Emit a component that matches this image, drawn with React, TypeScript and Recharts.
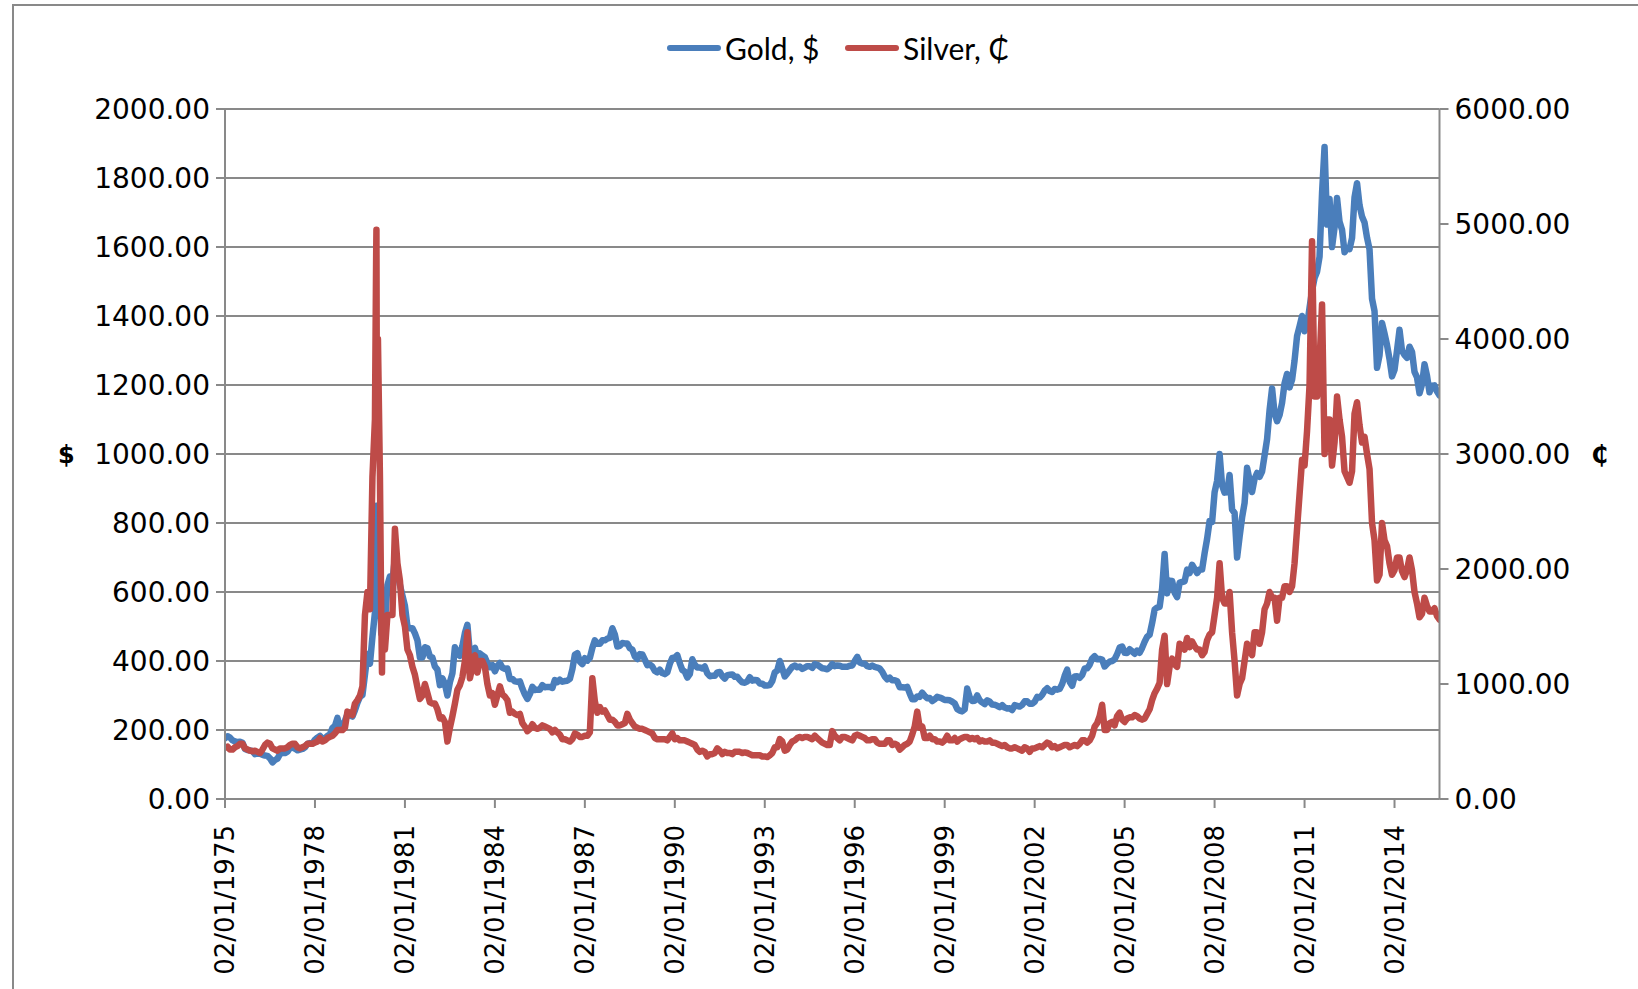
import React from 'react';
import { LineChart, Line, XAxis, YAxis, CartesianGrid, Legend } from 'recharts';

// Monthly values, Jan 1975 .. Jul 2015 (gold in $, silver in cents)
const gold1970s = [
  176, 182, 178, 170, 167, 165, 166, 163, 145, 142, 141, 139,
  130, 132, 131, 128, 126, 125, 118, 106, 113, 117, 130, 134,
  133, 137, 148, 149, 146, 141, 143, 145, 150, 160, 162, 161,
  172, 178, 183, 175, 176, 183, 188, 206, 212, 235, 206, 210,
  227, 246, 242, 239, 257, 279, 296, 301, 360, 420, 392, 470,
];
const gold1980s = [
  540, 670, 640, 515, 510, 620, 645, 630, 700, 660, 620, 590,
  560, 500, 495, 495, 480, 460, 410, 410, 440, 437, 413, 410,
  384, 375, 330, 350, 334, 300, 339, 364, 440, 422, 415, 444,
  481, 505, 420, 432, 438, 413, 422, 416, 411, 394, 382, 388,
  370, 386, 394, 381, 377, 378, 348, 348, 341, 340, 341, 320,
  303, 290, 304, 325, 316, 317, 317, 330, 324, 325, 325, 322,
  345, 339, 346, 340, 342, 343, 348, 376, 418, 423, 398, 391,
  408, 401, 409, 438, 460, 450, 450, 460, 460, 465, 467, 495,
  477, 442, 444, 452, 451, 451, 437, 433, 413, 406, 420, 419,
  404, 388, 390, 384, 371, 367, 375, 365, 362, 367, 392, 409,
];
const gold1990s = [
  410, 417, 393, 374, 369, 352, 362, 405, 389, 381, 381, 378,
  384, 364, 356, 357, 357, 367, 368, 356, 349, 359, 360, 361,
  354, 354, 345, 338, 337, 341, 353, 343, 345, 344, 335, 334,
  329, 329, 330, 342, 367, 372, 400, 378, 355, 364, 374, 383,
  387, 382, 384, 377, 381, 385, 385, 380, 391, 389, 384, 379,
  378, 376, 382, 391, 385, 387, 386, 383, 383, 383, 386, 387,
  400, 412, 396, 393, 392, 385, 383, 387, 383, 381, 378, 369,
  355, 347, 352, 344, 344, 341, 324, 324, 323, 325, 306, 289,
  289, 297, 296, 308, 299, 292, 293, 284, 289, 296, 294, 291,
  287, 287, 286, 282, 277, 261, 256, 254, 260, 320, 295, 284,
];
const gold2000s = [
  285, 300, 286, 280, 275, 286, 282, 274, 273, 270, 266, 272,
  265, 262, 263, 258, 272, 270, 268, 273, 283, 283, 276, 276,
  282, 296, 294, 302, 314, 321, 313, 310, 319, 317, 319, 333,
  357, 375, 340, 328, 355, 356, 351, 359, 378, 379, 389, 407,
  414, 405, 406, 404, 384, 392, 398, 400, 405, 420, 439, 442,
  424, 423, 434, 428, 421, 430, 424, 438, 456, 470, 476, 510,
  549, 555, 557, 610, 710, 596, 633, 632, 598, 585, 627, 629,
  631, 665, 655, 679, 667, 655, 665, 665, 712, 754, 806, 803,
  889, 922, 1000, 909, 888, 889, 939, 839, 829, 700, 760, 816,
  858, 960, 924, 890, 928, 945, 934, 949, 996, 1043, 1127, 1190,
];
const gold2010s = [
  1118, 1095, 1113, 1148, 1205, 1232, 1193, 1215, 1271, 1342, 1370, 1400,
  1356, 1372, 1424, 1473, 1510, 1528, 1572, 1756, 1890, 1665, 1739, 1600,
  1656, 1742, 1673, 1650, 1585, 1596, 1594, 1626, 1744, 1785, 1721, 1688,
  1671, 1627, 1593, 1450, 1414, 1250, 1286, 1380, 1349, 1316, 1275, 1225,
  1244, 1300, 1360, 1299, 1287, 1279, 1311, 1296, 1238, 1222, 1176, 1202,
  1260, 1227, 1179, 1198, 1199, 1181, 1170,
];

const silver1970s = [
  445, 455, 430, 430, 450, 460, 480, 480, 440, 430, 420, 415,
  420, 410, 400, 430, 470, 490, 480, 440, 430, 420, 440, 440,
  440, 450, 470, 480, 480, 450, 440, 450, 460, 480, 480, 480,
  490, 500, 530, 500, 510, 530, 540, 550, 570, 600, 600, 600,
  620, 760, 750, 730, 830, 860, 900, 980, 1600, 1800, 1650, 2800,
];
const silver1980s = [
  3300, 3700, 2800, 1450, 1300, 1600, 1600, 1600, 2350, 2050, 1900, 1600,
  1500, 1300, 1250, 1150, 1080, 970, 870, 900, 1000, 920, 840, 830,
  830, 780, 700, 710, 670, 500, 620, 720, 830, 950, 990, 1060,
  1200, 1450, 1050, 1150, 1250, 1100, 1200, 1200, 1150, 1000, 900, 920,
  820, 900, 980, 910, 890, 860, 750, 760, 740, 730, 740, 660,
  630, 590, 610, 650, 620, 610, 620, 640, 630, 620, 610, 580,
  600, 580, 560, 520, 520, 510, 500, 520, 570, 560, 540, 540,
  550, 550, 580, 1050, 850, 750, 800, 760, 770, 730, 690, 690,
  670, 640, 640, 650, 660, 740, 690, 660, 630, 620, 610, 610,
  600, 590, 580, 570, 530, 520, 520, 520, 520, 510, 540, 570,
];
const silver1990s = [
  520, 530, 510, 510, 510, 500, 490, 480, 470, 430, 410, 420,
  410, 370, 390, 390, 400, 440, 420, 390, 410, 400, 400, 390,
  410, 410, 410, 400, 405, 400, 390, 380, 380, 380, 380, 370,
  370, 365, 380, 400, 450, 450, 520, 500, 420, 430, 470, 500,
  510, 530, 540, 530, 540, 540, 530, 520, 550, 530, 510, 490,
  480, 470, 470, 590, 550, 530, 510, 540, 540, 530, 520, 510,
  550, 560, 550, 540, 530, 510, 510, 520, 520, 490, 480, 480,
  480, 510, 510, 470, 480, 470, 430, 450, 470, 480, 500, 560,
  630, 760, 620, 630, 530, 530, 550, 520, 520, 500, 500, 490,
  510, 550, 510, 510, 530, 500, 520, 530, 540, 540, 520, 530,
];
const silver2000s = [
  520, 530, 500, 510, 500, 500, 510, 490, 490, 480, 470, 460,
  470, 450, 440, 440, 450, 440, 430, 420, 450, 440, 410, 440,
  440, 450, 460, 450, 470, 490, 480, 450, 460, 440, 450, 460,
  470, 470, 450, 460, 470, 460, 480, 510, 510, 490, 510, 550,
  630, 660, 720, 820, 600, 600, 660, 670, 640, 720, 750, 690,
  670, 700, 710, 710, 730, 720, 700, 690, 700, 740, 780, 860,
  920, 960, 1010, 1300, 1420, 1000, 1150, 1220, 1170, 1150, 1350, 1330,
  1300, 1400, 1320, 1370, 1330, 1300, 1300, 1250, 1280, 1380, 1430, 1450,
  1600, 1750, 2050, 1750, 1700, 1700, 1800, 1450, 1200, 900, 1000, 1050,
  1200, 1350, 1300, 1250, 1450, 1450, 1350, 1450, 1650, 1700, 1800, 1750,
];
const silver2010s = [
  1750, 1550, 1750, 1750, 1850, 1850, 1800, 1850, 2050, 2350, 2650, 2950,
  2900, 3200, 3600, 4850, 3500, 3500, 3800, 4300, 3000, 3300, 3300, 2900,
  3100, 3500, 3300, 3150, 2850, 2800, 2750, 2850, 3350, 3450, 3250, 3100,
  3150, 3000, 2870, 2400, 2250, 1900, 1950, 2400, 2250, 2200, 2050, 1950,
  1990, 2100, 2100, 1980, 1930, 1990, 2100, 1990, 1800, 1700, 1580, 1610,
  1750, 1680, 1630, 1630, 1660, 1590, 1560,
];

// Extra intra-month readings around the early-1980 spike
const spikeDates = [1980.04, 1980.05, 1980.06, 1980.1, 1980.21, 1980.235];
const spikeGold = [820, 850, 700, 690, 480, 495];
const spikeSilver = [4700, 4950, 3800, 4000, 1600, 1100];

const goldValues = [...gold1970s, ...gold1980s, ...gold1990s, ...gold2000s, ...gold2010s];
const silverValues = [...silver1970s, ...silver1980s, ...silver1990s, ...silver2000s, ...silver2010s];
const START_YEAR = 1975;

const xTicks = [1975, 1978, 1981, 1984, 1987, 1990, 1993, 1996, 1999, 2002, 2005, 2008, 2011, 2014];
const leftTicks = [0, 200, 400, 600, 800, 1000, 1200, 1400, 1600, 1800, 2000];
const rightTicks = [0, 1000, 2000, 3000, 4000, 5000, 6000];

const rows = [
  ...goldValues.map((g, i) => ({ t: START_YEAR + i / 12, gold: g, silver: silverValues[i] })),
  ...spikeDates.map((t, i) => ({ t, gold: spikeGold[i], silver: spikeSilver[i] })),
].sort((a, b) => a.t - b.t);

const GOLD = '#4A7EBB';
const SILVER = '#BE4B48';
const GRID = '#898989';
const AXIS_FONT = 'DejaVu Sans, Verdana, sans-serif';

const XTick = (props: any) => {
  const { x, y, payload } = props;
  return (
    <text
      x={x}
      y={y}
      transform={`rotate(-90, ${x}, ${y})`}
      textAnchor="end"
      dy="0.36em"
      fontSize={26}
      fontFamily={AXIS_FONT}
      fill="#000"
    >
      {`02/01/${payload.value}`}
    </text>
  );
};

const LegendContent = () => (
  <div style={{ position: 'relative', width: 1638, height: 40, fontFamily: 'Lato, "Open Sans", sans-serif', fontSize: 30, color: '#000' }}>
    <div style={{ position: 'absolute', left: 667, top: 17, width: 54, height: 6, borderRadius: 3, background: GOLD }} />
    <div style={{ position: 'absolute', left: 725, top: 0, lineHeight: '40px', whiteSpace: 'nowrap' }}>Gold, $</div>
    <div style={{ position: 'absolute', left: 845, top: 17, width: 54, height: 6, borderRadius: 3, background: SILVER }} />
    <div style={{ position: 'absolute', left: 903, top: 0, lineHeight: '40px', whiteSpace: 'nowrap' }}>Silver, ₵</div>
  </div>
);

export default function App() {
  return (
    <div style={{ position: 'fixed', left: 0, top: 0, width: 1638, height: 989, overflow: 'hidden', background: '#fff' }}>
      <div style={{ position: 'absolute', left: 12, top: 4, width: 1700, height: 1100, borderLeft: `2px solid ${GRID}`, borderTop: `2px solid ${GRID}` }} />
      <div style={{ position: 'absolute', left: 0, top: 0 }}>
        <LineChart width={1638} height={989} data={rows} margin={{ top: 109, right: 0, bottom: 0, left: 0 }}>
          <CartesianGrid yAxisId="left" vertical={false} horizontal stroke={GRID} strokeWidth={2} />
          <XAxis
            dataKey="t"
            type="number"
            domain={[1975, 2015.5]}
            ticks={xTicks}
            interval={0}
            allowDataOverflow
            height={190}
            tickSize={9}
            tickMargin={17}
            axisLine={{ stroke: GRID, strokeWidth: 2 }}
            tickLine={{ stroke: GRID, strokeWidth: 2 }}
            tick={<XTick />}
          />
          <YAxis
            yAxisId="left"
            domain={[0, 2000]}
            ticks={leftTicks}
            interval={0}
            width={225}
            tickSize={9}
            tickMargin={6}
            tickFormatter={(v: number) => v.toFixed(2)}
            axisLine={{ stroke: GRID, strokeWidth: 2 }}
            tickLine={{ stroke: GRID, strokeWidth: 2 }}
            tick={{ fontSize: 28, fontFamily: AXIS_FONT, fill: '#000' }}
            label={{ value: '$', position: 'insideLeft', offset: 58, fontSize: 24, fontWeight: 'bold', fontFamily: AXIS_FONT, fill: '#000' }}
          />
          <YAxis
            yAxisId="right"
            orientation="right"
            domain={[0, 6000]}
            ticks={rightTicks}
            interval={0}
            width={198.5}
            tickSize={9}
            tickMargin={6}
            tickFormatter={(v: number) => v.toFixed(2)}
            axisLine={{ stroke: GRID, strokeWidth: 2 }}
            tickLine={{ stroke: GRID, strokeWidth: 2 }}
            tick={{ fontSize: 28, fontFamily: AXIS_FONT, fill: '#000' }}
            label={{ value: '₵', position: 'insideRight', offset: 30, fontSize: 24, fontWeight: 'bold', fontFamily: AXIS_FONT, fill: '#000' }}
          />
          <Line
            yAxisId="left"
            type="linear"
            dataKey="gold"
            name="Gold, $"
            stroke={GOLD}
            strokeWidth={6.5}
            strokeLinejoin="round"
            strokeLinecap="round"
            dot={false}
            activeDot={false}
            isAnimationActive={false}
          />
          <Line
            yAxisId="right"
            type="linear"
            dataKey="silver"
            name="Silver, ₵"
            stroke={SILVER}
            strokeWidth={6.5}
            strokeLinejoin="round"
            strokeLinecap="round"
            dot={false}
            activeDot={false}
            isAnimationActive={false}
          />
          <Legend verticalAlign="middle" align="center" wrapperStyle={{ top: 28, left: 0, width: 1638 }} content={<LegendContent />} />
        </LineChart>
      </div>
    </div>
  );
}
